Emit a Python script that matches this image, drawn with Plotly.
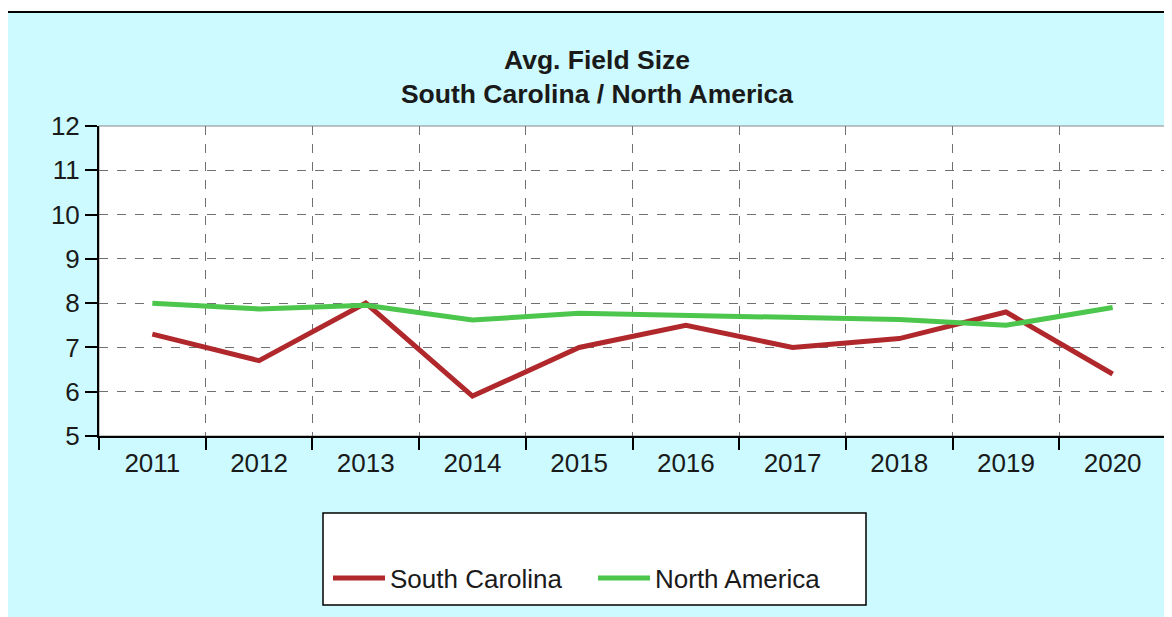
import plotly.graph_objects as go

years = ["2011", "2012", "2013", "2014", "2015", "2016", "2017", "2018", "2019", "2020"]
south_carolina = [7.3, 6.7, 8.0, 5.9, 7.0, 7.5, 7.0, 7.2, 7.8, 6.4]
north_america = [8.0, 7.87, 7.95, 7.62, 7.77, 7.73, 7.68, 7.63, 7.5, 7.9]
y_ticks = [5, 6, 7, 8, 9, 10, 11, 12]

OFF = 8  # page body margin
W, H = 1172 - OFF, 617 - OFF
L, R, T, B = 99, 1166, 126, 436  # plot area in page pixels
pw, ph = R - L, B - T

def px(x):
    return (x - L) / pw

def py(y):
    return (B - y) / ph

FONT = "Liberation Sans, Arial, sans-serif"
RED = "#b0282b"
GREEN = "#4cc64c"
TXT = "#1a1a1a"

fig = go.Figure()
fig.add_trace(go.Scatter(x=years, y=south_carolina, mode="lines", name="South Carolina",
                         line=dict(color=RED, width=5)))
fig.add_trace(go.Scatter(x=years, y=north_america, mode="lines", name="North America",
                         line=dict(color=GREEN, width=5)))

shapes = [
    dict(type="rect", xref="paper", yref="paper", x0=px(7), x1=px(1185), y0=py(640), y1=py(12),
         fillcolor="#ccfaff", line=dict(color="black", width=2), layer="below"),
    dict(type="rect", xref="paper", yref="paper", x0=0, x1=1, y0=0, y1=1,
         fillcolor="white", line=dict(color="#8a8a8a", width=1), layer="below"),
    dict(type="rect", xref="paper", yref="paper", x0=px(323), x1=px(866), y0=py(605), y1=py(513),
         fillcolor="white", line=dict(color="black", width=1.5), layer="below"),
]

fig.update_layout(
    width=W, height=H,
    margin=dict(l=L - OFF, r=1172 - R, t=T - OFF, b=617 - B, pad=0),
    paper_bgcolor="white",
    plot_bgcolor="rgba(0,0,0,0)",
    shapes=shapes,
    title=dict(text="<b>Avg. Field Size<br>South Carolina / North America</b>",
               x=(597 - OFF) / W, xanchor="center", y=1 - (69 - OFF) / H, yanchor="middle",
               font=dict(family=FONT, size=26.5, color=TXT)),
    font=dict(family=FONT, color=TXT),
    showlegend=True,
    legend=dict(orientation="h", x=px(328), xanchor="left", y=py(578), yanchor="middle",
                bgcolor="rgba(0,0,0,0)", borderwidth=0,
                font=dict(family=FONT, size=26, color=TXT),
                itemwidth=52, entrywidth=198, entrywidthmode="pixels", traceorder="normal"),
    xaxis=dict(type="category", tickson="boundaries", showgrid=True, gridcolor="#707070",
               griddash="dash", gridwidth=1, showline=True, linecolor="black", linewidth=2,
               ticks="outside", ticklen=12, tickwidth=2, tickcolor="black",
               ticklabelstandoff=3,
               tickfont=dict(family=FONT, size=26, color=TXT), zeroline=False,
               range=[-0.5, 9.5]),
    yaxis=dict(range=[5, 12], tickvals=y_ticks, showgrid=True, gridcolor="#707070",
               griddash="dash", gridwidth=1, showline=True, linecolor="black", linewidth=2,
               ticks="outside", ticklen=12, tickwidth=2, tickcolor="black",
               tickfont=dict(family=FONT, size=26, color=TXT), zeroline=False),
)

fig.write_html("out.html")
